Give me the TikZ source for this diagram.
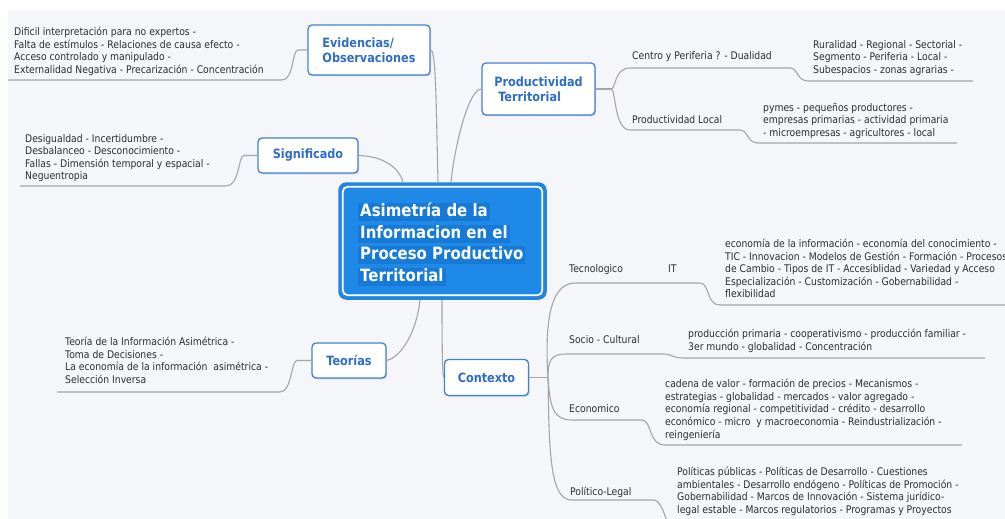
\documentclass[tikz,border=0pt]{standalone}
\usepackage{fontspec}
\usetikzlibrary{shadows,calc}
\newfontfamily\tah[FakeStretch=0.88]{DejaVu Sans}
\definecolor{bg}{RGB}{244,246,250}
\definecolor{linegray}{RGB}{165,165,165}
\definecolor{boxedge}{RGB}{66,128,208}
\definecolor{boxtext}{RGB}{46,110,200}
\definecolor{coreblue}{RGB}{30,137,230}
\definecolor{corerim}{RGB}{36,132,222}
\definecolor{hl}{RGB}{22,122,214}
\definecolor{leaftext}{RGB}{45,45,45}
\tikzset{
 topic/.style={draw=boxedge, line width=1.3pt, rounded corners=4pt, fill=white, text=boxtext,
   font=\tah\bfseries\fontsize{12.8}{15.5}\selectfont, align=center, inner sep=0pt,
   drop shadow={shadow xshift=1.2pt, shadow yshift=-1.5pt, opacity=0.25}},
 leaf/.style={font=\tah\fontsize{10.5}{12.6}\selectfont, text=leaftext, align=left, inner sep=0pt, anchor=north west},
 lbl/.style={font=\tah\fontsize{10.5}{12.6}\selectfont, text=leaftext, inner sep=0pt, anchor=west, text height=8pt, text depth=2.5pt},
 conn/.style={draw=linegray, line width=1.1pt},
 coretext/.style={font=\tah\bfseries\fontsize{17}{21}\selectfont, text=white, fill=hl, inner xsep=2pt, inner ysep=1pt, anchor=west, text height=12.5pt, text depth=3.5pt},
}
\begin{document}
\begin{tikzpicture}[x=1pt,y=-1pt]
\useasboundingbox (0,0) rectangle (1005,519);
\clip (0,0) rectangle (1005,519);
\fill[white] (0,0) rectangle (1005,519);
\fill[bg] (8,10) rectangle (1005,519);

% central node
\node[draw=corerim, fill=coreblue, line width=2.5pt, rounded corners=7pt, minimum width=206pt, minimum height=115pt, inner sep=0pt] (core) at (442.5,241) {};
\draw[white, line width=1.8pt, rounded corners=5pt] ($(core.north west)+(4.5,4.5)$) rectangle ($(core.south east)+(-4.5,-4.5)$);
\node[coretext] (t1) at (358,212) {Asimetría de la\ };
\node[coretext] (t2) at (358,233.5) {Informacion en el};
\node[coretext] (t3) at (358,255) {Proceso Productivo\ };
\node[coretext] (t4) at (358,276.5) {Territorial};

% main topics
\node[topic, minimum width=122pt, minimum height=50pt, align=left] (evid) at (369,50) {Evidencias/\\Observaciones};
\node[topic, minimum width=113pt, minimum height=52pt, align=left] (prod) at (538.5,89) {Productividad\\\hspace*{4pt}Territorial};
\node[topic, minimum width=100pt, minimum height=35pt] (sig) at (308,155.5) {Significado};
\node[topic, minimum width=74pt, minimum height=35pt] (teo) at (349,360.5) {Teorías};
\node[topic, minimum width=84pt, minimum height=36pt] (ctx) at (486.5,377.5) {Contexto};

% attachment points on the central node
\coordinate (cSig) at (403,182);
\coordinate (cEvi) at (438,182);
\coordinate (cPro) at (451,182);
\coordinate (cTeo) at (420,300);
\coordinate (cCtx) at (442,300);

\draw[conn] (evid.east) .. controls (436,50) and (436,100) .. (cEvi);
\draw[conn] (cPro) .. controls (454,150) and (468,89) .. (prod.west);
\draw[conn] (sig.east) .. controls (380,156) and (398,165) .. (cSig);
\draw[conn] (cTeo) .. controls (417,330) and (402,357) .. (teo.east);
\draw[conn] (cCtx) .. controls (442,370) and (443,377.5) .. (ctx.west);

% left leaves
\coordinate (eEnd) at (8,80);
\coordinate (sEnd) at (20,186);
\coordinate (tEnd) at (57,392);
\draw[conn] (evid.west) -- (298,50) .. controls (292,50) and (294,80) .. (282,80) -- (eEnd);
\draw[conn] (sig.west) -- (244,155.5) .. controls (238,155.5) and (240,186) .. (226,186) -- (sEnd);
\draw[conn] (teo.west) -- (297,360.5) .. controls (291,360.5) and (292,392) .. (280,392) -- (tEnd);

\node[leaf] (lEvi) at (14,27) {Dificil interpretación para no expertos -\\Falta de estímulos - Relaciones de causa efecto -\\Acceso controlado y manipulado -\\Externalidad Negativa - Precarización - Concentración};
\node[leaf] (lSig) at (25,134) {Desigualdad - Incertidumbre -\\Desbalanceo - Desconocimiento -\\Fallas - Dimensión temporal y espacial -\\Neguentropia};
\node[leaf] (lTeo) at (65,337) {Teoría de la Información Asimétrica -\\Toma de Decisiones -\\La economía de la información\ \ asimétrica -\\Selección Inversa};

% Productividad branches
\coordinate (pf) at (611,89);
\coordinate (pEnd1) at (973,81);
\coordinate (pEnd2) at (957,143);
\draw[conn] (prod.east) -- (pf);
\draw[conn] (pf) .. controls (616,89) and (614,68) .. (630,68) -- (790,68) .. controls (798,68) and (797,81) .. (808,81) -- (pEnd1);
\draw[conn] (pf) .. controls (616,89) and (614,130) .. (630,130) -- (740,130) .. controls (748,130) and (747,143) .. (758,143) -- (pEnd2);
\node[lbl] (lCP) at (632,57) {Centro y Periferia ? - Dualidad};
\node[leaf] (lRur) at (813,40) {Ruralidad - Regional - Sectorial -\\Segmento - Periferia - Local -\\Subespacios - zonas agrarias -};
\node[lbl] (lPL) at (632,121) {Productividad Local};
\node[leaf] (lPy) at (763,103) {pymes - pequeños productores -\\empresas primarias - actividad primaria\\- microempresas - agricultores - local};

% Contexto branches
\coordinate (cf) at (548,377.5);
\coordinate (xEnd1) at (1005,305);
\coordinate (xEnd2) at (985,358);
\coordinate (xEnd3) at (962,445);
\coordinate (xEnd4) at (668,524);
\draw[conn] (ctx.east) -- (cf);
\draw[conn] (cf) .. controls (545,330) and (548,283) .. (575,283) -- (700,283) .. controls (710,283) and (706,305) .. (720,305) -- (xEnd1);
\draw[conn] (cf) .. controls (548,362) and (550,354) .. (566,354) -- (664,354) .. controls (671,354) and (673,358) .. (683,358) -- (xEnd2);
\draw[conn] (cf) .. controls (550,405) and (552,420) .. (572,420) -- (642,420) .. controls (652,420) and (648,445) .. (665,445) -- (xEnd3);
\draw[conn] (cf) .. controls (549,460) and (551,500) .. (572,500) -- (653,500) .. controls (660,500) and (663,510) .. (xEnd4);

\node[lbl] (lTec) at (569,270) {Tecnologico};
\node[lbl] (lIT) at (668,270) {IT};
\node[leaf] (lITb) at (725,239) {economía de la información - economía del conocimiento -\\TIC - Innovacion - Modelos de Gestión - Formación - Procesos\\de Cambio - Tipos de IT - Accesiblidad - Variedad y Acceso\\Especialización - Customización - Gobernabilidad -\\flexibilidad};
\node[lbl] (lSC) at (569,341) {Socio - Cultural};
\node[leaf] (lSCb) at (688,329) {producción primaria - cooperativismo - producción familiar -\\3er mundo - globalidad - Concentración};
\node[lbl] (lEco) at (569,410) {Economico};
\node[leaf] (lEcob) at (665,379) {cadena de valor - formación de precios - Mecanismos -\\estrategias - globalidad - mercados - valor agregado -\\economía regional - competitividad - crédito - desarrollo\\económico - micro\ \ y macroeconomia - Reindustrialización -\\reingeniería};
\node[lbl] (lPol) at (570,493) {Político-Legal};
\node[leaf] (lPolb) at (677,467) {Políticas públicas - Políticas de Desarrollo - Cuestiones\\ambientales - Desarrollo endógeno - Políticas de Promoción -\\Gobernabilidad - Marcos de Innovación - Sistema jurídico-\\legal estable - Marcos regulatorios - Programas y Proyectos};
\end{tikzpicture}
\end{document}
